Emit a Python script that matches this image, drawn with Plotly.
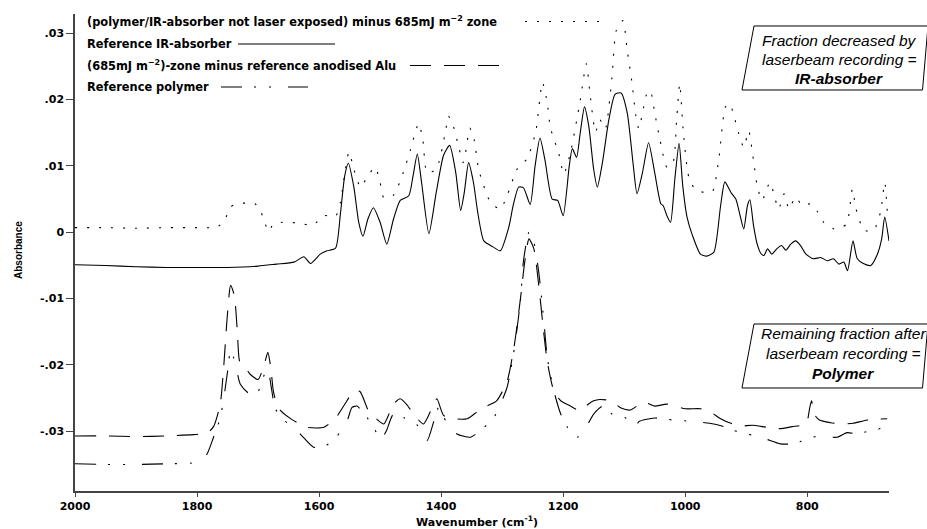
import plotly.graph_objects as go

# ---------------- data ----------------
wn_diff = [2000, 1950, 1900, 1850, 1800, 1767, 1755, 1745, 1735, 1721, 1705, 1695, 1688, 1683, 1675, 1660,
           1636, 1610, 1592, 1573, 1565, 1560, 1551, 1543, 1532, 1520, 1508, 1500, 1494, 1478, 1462, 1450,
           1437, 1430, 1423, 1408, 1393, 1388, 1380, 1371, 1364, 1360, 1353, 1346, 1338, 1319, 1303, 1292,
           1275, 1259, 1245, 1234, 1226, 1221, 1207, 1199, 1188, 1172, 1162, 1156, 1147, 1140, 1131, 1120,
           1113, 1102, 1095, 1087, 1081, 1076, 1062, 1057, 1050, 1041, 1030, 1020, 1014, 1009, 1003, 994,
           983, 967, 955, 945, 934, 927, 920, 912, 904, 896, 888, 882, 874, 861, 847, 838, 830, 819, 808,
           795, 784, 773, 756, 745, 735, 726, 720, 707, 691, 680, 673, 668]
abs_diff = [0.0007, 0.0007, 0.0006, 0.0007, 0.0007, 0.0008, 0.0018, 0.0038, 0.0043, 0.0044, 0.0043, 0.0030,
            0.0012, 0.0001, 0.0012, 0.0015, 0.0014, 0.0011, 0.0025, 0.0024, 0.0045, 0.0075, 0.0121, 0.0095,
            0.0068, 0.0085, 0.0098, 0.0075, 0.0052, 0.0056, 0.0090, 0.0125, 0.0164, 0.0140, 0.0090, 0.0095,
            0.0151, 0.0175, 0.0160, 0.0128, 0.0105, 0.0120, 0.0157, 0.0140, 0.0093, 0.0045, 0.0035, 0.0055,
            0.0096, 0.0111, 0.0151, 0.0226, 0.0195, 0.0158, 0.0118, 0.0088, 0.0120, 0.0199, 0.0254, 0.0209,
            0.0151, 0.0170, 0.0156, 0.0234, 0.0304, 0.0319, 0.0274, 0.0224, 0.0176, 0.0156, 0.0211, 0.0213,
            0.0180, 0.0138, 0.0098, 0.0105, 0.0170, 0.0224, 0.0150, 0.0083, 0.0064, 0.0060, 0.0062, 0.0110,
            0.0189, 0.0194, 0.0175, 0.0148, 0.0128, 0.0153, 0.0108, 0.0070, 0.0048, 0.0075, 0.0035, 0.0058,
            0.0035, 0.0053, 0.0040, 0.0043, 0.0032, 0.0015, 0.0005, 0.0007, 0.0013, 0.0065, 0.0035, 0.0003,
            0.0003, 0.0030, 0.0075, 0.0018]

wn_ir = [2000, 1950, 1900, 1850, 1800, 1750, 1700, 1670, 1641, 1625, 1614, 1598, 1587, 1573, 1565, 1558,
         1552, 1543, 1535, 1528, 1520, 1511, 1500, 1489, 1478, 1467, 1453, 1446, 1439, 1432, 1420, 1408,
         1396, 1386, 1376, 1368, 1362, 1355, 1347, 1340, 1330, 1315, 1303, 1289, 1282, 1273, 1265, 1254,
         1246, 1238, 1230, 1218, 1209, 1200, 1190, 1185, 1178, 1172, 1165, 1158, 1150, 1144, 1136, 1125,
         1115, 1105, 1095, 1085, 1079, 1070, 1060, 1050, 1040, 1036, 1030, 1024, 1017, 1010, 1004, 997,
         988, 975, 965, 953, 942, 935, 925, 917, 910, 904, 898, 894, 888, 882, 876, 871, 865, 858, 850,
         842, 835, 827, 819, 811, 802, 790, 778, 767, 757, 748, 740, 734, 725, 718, 708, 696, 685, 678,
         673, 666]
abs_ir = [-0.0049, -0.0050, -0.0052, -0.0053, -0.0053, -0.0053, -0.0051, -0.0048, -0.0045, -0.0037, -0.0047,
          -0.0033, -0.0028, -0.0024, 0.0028, 0.0085, 0.0104, 0.0068, 0.0015, -0.0006, 0.0020, 0.0037, 0.0015,
          -0.0018, 0.0020, 0.0048, 0.0055, 0.0085, 0.0118, 0.0075, -0.0002, 0.0060, 0.0116, 0.0131, 0.0090,
          0.0033, 0.0060, 0.0105, 0.0075, 0.0030, -0.0013, -0.0022, -0.0028, 0.0008, 0.0040, 0.0068, 0.0067,
          0.0042, 0.0100, 0.0142, 0.0110, 0.0050, 0.0048, 0.0025, 0.0100, 0.0126, 0.0113, 0.0150, 0.0189,
          0.0160, 0.0095, 0.0068, 0.0103, 0.0170, 0.0208, 0.0210, 0.0180, 0.0100, 0.0058, 0.0090, 0.0135,
          0.0090, 0.0043, 0.0040, 0.0025, 0.0015, 0.0080, 0.0134, 0.0070, 0.0023, -0.0005, -0.0033, -0.0036,
          -0.0030, 0.0040, 0.0076, 0.0060, 0.0050, 0.0025, 0.0005, 0.0040, 0.0049, 0.0010, -0.0018, -0.0032,
          -0.0035, -0.0025, -0.0033, -0.0025, -0.0020, -0.0027, -0.0018, -0.0013, -0.0020, -0.0033, -0.0040,
          -0.0038, -0.0043, -0.0040, -0.0048, -0.0045, -0.0058, -0.0013, -0.0040, -0.0047, -0.0050, -0.0033,
          -0.0010, 0.0023, -0.0013]

wn_zone = [2000, 1950, 1900, 1850, 1806, 1784, 1773, 1762, 1756, 1751, 1745, 1739, 1734, 1730, 1724, 1713,
           1700, 1690, 1684, 1679, 1675, 1669, 1663, 1645, 1620, 1592, 1572, 1555, 1543, 1533, 1519, 1505,
           1494, 1478, 1467, 1456, 1445, 1429, 1415, 1407, 1396, 1380, 1357, 1340, 1325, 1309, 1292, 1280,
           1270, 1263, 1256, 1248, 1240, 1232, 1226, 1215, 1204, 1188, 1172, 1160, 1150, 1140, 1122, 1105,
           1090, 1068, 1050, 1030, 1000, 975, 960, 942, 925, 909, 890, 866, 845, 825, 802, 796, 793, 788,
           780, 762, 745, 725, 707, 690, 669]
abs_zone = [-0.0307, -0.0307, -0.0308, -0.0307, -0.0305, -0.0303, -0.0293, -0.0259, -0.0199, -0.0133, -0.0080,
            -0.0095, -0.0148, -0.0195, -0.0199, -0.0214, -0.0222, -0.0200, -0.0181, -0.0205, -0.0239, -0.0260,
            -0.0269, -0.0282, -0.0294, -0.0294, -0.0279, -0.0255, -0.0239, -0.0240, -0.0269, -0.0282, -0.0289,
            -0.0259, -0.0251, -0.0260, -0.0274, -0.0289, -0.0265, -0.0251, -0.0276, -0.0281, -0.0281, -0.0270,
            -0.0262, -0.0254, -0.0225, -0.0170, -0.0100, -0.0045, -0.0010, -0.0025, -0.0080, -0.0150, -0.0195,
            -0.0240, -0.0254, -0.0262, -0.0269, -0.0260, -0.0254, -0.0252, -0.0254, -0.0265, -0.0268, -0.0256,
            -0.0262, -0.0259, -0.0266, -0.0266, -0.0270, -0.0281, -0.0288, -0.0292, -0.0291, -0.0294, -0.0296,
            -0.0293, -0.0289, -0.0265, -0.0254, -0.0275, -0.0283, -0.0287, -0.0289, -0.0288, -0.0284, -0.0282,
            -0.0281]

wn_poly = [2000, 1950, 1900, 1850, 1810, 1795, 1784, 1773, 1762, 1756, 1750, 1745, 1738, 1729, 1713, 1700,
           1690, 1684, 1679, 1672, 1660, 1647, 1630, 1609, 1590, 1572, 1554, 1546, 1538, 1525, 1510, 1500,
           1490, 1478, 1460, 1440, 1423, 1412, 1404, 1392, 1374, 1352, 1336, 1314, 1292, 1280, 1270, 1265,
           1256, 1248, 1240, 1232, 1226, 1215, 1204, 1193, 1177, 1165, 1150, 1135, 1120, 1100, 1084, 1075,
           1050, 1020, 990, 960, 940, 920, 898, 870, 844, 825, 810, 795, 775, 751, 735, 718, 700, 685, 669]
abs_poly = [-0.0349, -0.0350, -0.0350, -0.0349, -0.0348, -0.0345, -0.0335, -0.0309, -0.0280, -0.0249, -0.0210,
            -0.0178, -0.0195, -0.0229, -0.0244, -0.0240, -0.0215, -0.0205, -0.0230, -0.0265, -0.0282, -0.0290,
            -0.0305, -0.0324, -0.0322, -0.0309, -0.0284, -0.0264, -0.0262, -0.0275, -0.0294, -0.0314, -0.0300,
            -0.0274, -0.0280, -0.0290, -0.0314, -0.0285, -0.0264, -0.0285, -0.0304, -0.0309, -0.0299, -0.0280,
            -0.0234, -0.0175, -0.0103, -0.0043, 0.0000, -0.0015, -0.0060, -0.0130, -0.0189, -0.0240, -0.0274,
            -0.0294, -0.0309, -0.0298, -0.0274, -0.0262, -0.0274, -0.0278, -0.0294, -0.0285, -0.0280, -0.0283,
            -0.0285, -0.0288, -0.0292, -0.0299, -0.0304, -0.0311, -0.0319, -0.0319, -0.0315, -0.0309, -0.0308,
            -0.0309, -0.0302, -0.0304, -0.0300, -0.0298, -0.0287]

x_ticks = [2000, 1800, 1600, 1400, 1200, 1000, 800]
y_ticks = [-0.03, -0.02, -0.01, 0, 0.01, 0.02, 0.03]
y_ticktext = ["-.03", "-.02", "-.01", "0", ".01", ".02", ".03"]

legend_names = [
    "(polymer/IR-absorber not laser exposed) minus 685mJ m<sup>−2</sup> zone",
    "Reference IR-absorber",
    "(685mJ m<sup>−2</sup>)-zone minus reference anodised Alu",
    "Reference polymer",
]

# ---------------- styles ----------------
DOT = "2px,10px"
SOLID = "solid"
LDASH = "21px,13px"
DASHDOT = "21px,12px,2px,13px,2px,17px"

W, H = 927, 529
ML, MR, MT, MB = 75, 38, 14, 38
PW, PH = W - ML - MR, H - MT - MB


def px(x):
    return (x - ML) / PW


def py(y):
    return (H - MB - y) / PH


fig = go.Figure()
for wn, ab, dash, name in [
    (wn_diff, abs_diff, DOT, legend_names[0]),
    (wn_ir, abs_ir, SOLID, legend_names[1]),
    (wn_zone, abs_zone, LDASH, legend_names[2]),
    (wn_poly, abs_poly, DASHDOT, legend_names[3]),
]:
    fig.add_trace(go.Scatter(x=wn, y=ab, mode="lines", name=name,
                             line=dict(color="black", width=1.1, dash=dash, shape="spline", smoothing=0.6),
                             showlegend=False))

annotations = []
shapes = []

# legend (text + sample line)
legend_rows = [
    (21.5, 525, 600, DOT),
    (44, 238, 335, SOLID),
    (65.5, 410, 499, LDASH),
    (87, 221, 308, DASHDOT),
]
for name, (yy, x0, x1, dash) in zip(legend_names, legend_rows):
    annotations.append(dict(text=name, x=px(86), y=py(yy), xref="paper", yref="paper",
                            xanchor="left", yanchor="middle", showarrow=False, borderpad=0,
                            font=dict(family="DejaVu Sans", size=11.4, color="black", weight="bold")))
    shapes.append(dict(type="line", xref="paper", yref="paper", x0=px(x0), x1=px(x1), y0=py(yy), y1=py(yy),
                       line=dict(color="black", width=1.1, dash=dash)))

# parallelogram boxes
def box(ytop, ybot):
    pts = [(754, ytop), (928, ytop), (922.5, ybot), (742, ybot)]
    path = "M " + " L ".join("%f,%f" % (px(a), py(b)) for a, b in pts) + " Z"
    return dict(type="path", xref="paper", yref="paper", path=path,
                line=dict(color="black", width=1), fillcolor="white", layer="above")

shapes.append(box(26, 90))
shapes.append(box(324, 388))

ital = dict(family="Liberation Sans", size=15.5, color="black", style="italic")
ital_b = dict(family="Liberation Sans", size=15.5, color="black", style="italic", weight="bold")
for txt, yy, f in [("Fraction decreased by", 40.5, ital), ("laserbeam recording =", 59.5, ital),
                   ("IR-absorber", 78, ital_b)]:
    annotations.append(dict(text=txt, x=px(839), y=py(yy), xref="paper", yref="paper", xanchor="center",
                            yanchor="middle", showarrow=False, font=f))
for txt, yy, f in [("Remaining fraction after", 333.5, ital), ("laserbeam recording =", 353.5, ital),
                   ("Polymer", 373, ital_b)]:
    annotations.append(dict(text=txt, x=px(843), y=py(yy), xref="paper", yref="paper", xanchor="center",
                            yanchor="middle", showarrow=False, font=f))

# axis titles
annotations.append(dict(text="Absorbance", x=px(19), y=py(250), xref="paper", yref="paper",
                        textangle=-90, xanchor="center", yanchor="middle", showarrow=False,
                        font=dict(family="Liberation Sans", size=10, color="black", weight="bold")))
annotations.append(dict(text="Wavenumber (cm<sup>-1</sup>)", x=px(477), y=py(521), xref="paper",
                        yref="paper", xanchor="center", yanchor="middle", showarrow=False,
                        font=dict(family="DejaVu Sans", size=11, color="black", weight="bold")))

tick_font = dict(family="DejaVu Sans", size=11, color="black", weight="bold")
fig.update_layout(
    width=W, height=H,
    margin=dict(l=ML, r=MR, t=MT, b=MB),
    paper_bgcolor="white", plot_bgcolor="white",
    shapes=shapes, annotations=annotations,
    xaxis=dict(range=[2000, 666], tickvals=x_ticks, ticks="outside", ticklen=4, tickcolor="#444",
               showline=True, linecolor="#444", linewidth=1.5, showgrid=False, zeroline=False,
               tickfont=tick_font),
    yaxis=dict(range=[-0.039, 0.0329], tickvals=y_ticks, ticktext=y_ticktext,
               ticks="outside", ticklen=7, tickcolor="#444", showline=True, linecolor="#444",
               linewidth=1.5, showgrid=False, zeroline=False, tickfont=tick_font),
)

fig.write_html("out.html", config={"displayModeBar": False},
               post_script="document.body.style.margin='0';")
